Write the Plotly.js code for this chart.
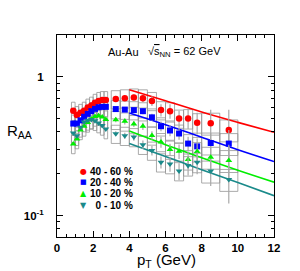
<!DOCTYPE html>
<html>
<head>
<meta charset="utf-8">
<script src="https://cdn.plot.ly/plotly-3.0.1.min.js"></script>
<style>html,body{margin:0;padding:0;background:#fff;}#plot{width:300px;height:271px;}</style>
</head>
<body>
<div id="plot"></div>
<script>
// ---- data ----
const pT = [0.9,1.1,1.3,1.5,1.7,1.9,2.1,2.3,2.5,2.7,3.25,3.75,4.25,4.75,5.25,5.75,6.25,6.75,7.25,7.75,8.5,9.5];
const binHalf = [0.1,0.1,0.1,0.1,0.1,0.1,0.1,0.1,0.1,0.1,0.25,0.25,0.25,0.25,0.25,0.25,0.25,0.25,0.25,0.25,0.5,0.5];
const sysFrac = [0.15,0.15,0.15,0.15,0.15,0.15,0.15,0.15,0.15,0.15,0.15,0.15,0.15,0.15,0.15,0.15,0.15,0.15,0.16,0.16,0.18,0.18];

const raa4060 = [0.57,0.53,0.55,0.57,0.60,0.62,0.65,0.67,0.68,0.68,0.69,0.70,0.71,0.70,0.67,0.575,0.565,0.50,0.50,0.467,0.463,0.414];
const raa2040 = [0.46,0.46,0.485,0.515,0.54,0.565,0.587,0.603,0.607,0.607,0.585,0.58,0.575,0.565,0.51,0.44,0.41,0.39,0.33,0.315,0.333,0.33];
const raa1020 = [0.328,0.356,0.414,0.439,0.469,0.496,0.518,0.524,0.513,0.493,0.49,0.477,0.457,0.439,0.378,0.339,0.299,0.290,0.253,0.289,0.263,0.249];
const raa0010 = [0.394,0.376,0.432,0.472,0.485,0.493,0.482,0.464,0.446,0.42,0.389,0.376,0.368,0.324,0.294,0.242,0.235,0.209,0.229,0.242,0.209,0.182];

const stat4060 = [0.01,0.01,0.01,0.01,0.01,0.01,0.01,0.01,0.015,0.015,0.03,0.04,0.05,0.06,0.08,0.10,0.12,0.14,0.16,0.18,0.25,0.40];
const stat2040 = [0.01,0.01,0.01,0.01,0.01,0.01,0.01,0.01,0.015,0.015,0.03,0.035,0.04,0.05,0.06,0.08,0.09,0.10,0.12,0.14,0.18,0.25];
const stat1020 = [0.01,0.01,0.01,0.01,0.01,0.01,0.01,0.01,0.015,0.015,0.04,0.05,0.05,0.06,0.07,0.09,0.10,0.12,0.14,0.16,0.20,0.30];
const stat0010 = [0.01,0.01,0.01,0.01,0.01,0.01,0.01,0.01,0.015,0.015,0.04,0.05,0.06,0.07,0.08,0.10,0.12,0.14,0.15,0.18,0.22,0.33];

const linePt = [4,6,8,10,12];
const line4060 = [0.806,0.672,0.557,0.469,0.398];
const line2040 = [0.548,0.451,0.367,0.298,0.245];
const line1020 = [0.406,0.324,0.261,0.212,0.174];
const line0010 = [0.330,0.266,0.214,0.173,0.139];

const names = ['40 - 60 %','20 - 40 %','10 - 20 %','\u00a0\u00a00 - 10 %'];
const colors = ['#ff0000','#0000ff','#00ee00','#1a8a8a'];
const symbols = ['circle','square','triangle-up','triangle-down'];
const glyphs = ['\u25CF','\u25A0','\u25B2','\u25BC'];
const series = [raa4060, raa2040, raa1020, raa0010];
const stats = [stat4060, stat2040, stat1020, stat0010];
const lines = [line4060, line2040, line1020, line0010];

// ---- traces ----
const traces = [];
// systematic boxes
series.forEach((vals) => {
  const bx = [], by = [];
  vals.forEach((v, i) => {
    const lo = v * (1 - sysFrac[i]), hi = v * (1 + sysFrac[i]);
    const x0 = pT[i] - binHalf[i], x1 = pT[i] + binHalf[i];
    bx.push(x0, x1, x1, x0, x0, null);
    by.push(lo, lo, hi, hi, lo, null);
  });
  traces.push({x: bx, y: by, mode: 'lines', line: {color: '#959595', width: 0.8},
    hoverinfo: 'skip', showlegend: false});
});
// model curves
lines.forEach((l, k) => {
  traces.push({x: linePt, y: l, mode: 'lines', line: {color: colors[k], width: 1.6, shape: 'spline'},
    hoverinfo: 'skip', showlegend: false});
});
// data points with stat errors
series.forEach((vals, k) => {
  traces.push({x: pT, y: vals, mode: 'markers', name: names[k], showlegend: false,
    marker: {color: colors[k], symbol: symbols[k], size: k === 0 ? 6.5 : 6, line: {width: 0}},
    error_y: {type: 'data', array: vals.map((v, i) => v * stats[k][i]), color: '#a8a8a8', thickness: 1.2, width: 0}});
});

// ---- layout ----
const font = 'Liberation Sans, Arial, sans-serif';
const legY = [0.323, 0.271, 0.216, 0.158];
const ann = [];
names.forEach((n, k) => {
  ann.push({xref: 'paper', yref: 'paper', x: 0.122, y: legY[k], xanchor: 'center', yanchor: 'middle',
    text: glyphs[k], showarrow: false, borderpad: 0, font: {family: 'DejaVu Sans', size: k === 1 ? 7 : 8, color: colors[k]}});
  ann.push({xref: 'paper', yref: 'paper', x: 0.146, y: legY[k], xanchor: 'left', yanchor: 'middle',
    text: '<b>' + n + '</b>', showarrow: false, borderpad: 0, font: {family: font, size: 10, color: '#000'}});
});
ann.push({xref: 'paper', yref: 'paper', x: 0.228, y: 0.916, xanchor: 'left', yanchor: 'middle',
  text: 'Au-Au', showarrow: false, font: {family: font, size: 11, color: '#000'}});
ann.push({xref: 'paper', yref: 'paper', x: 0.41, y: 0.916, xanchor: 'left', yanchor: 'middle',
  text: '\u221A<span style="text-decoration:overline">s</span><sub>NN</sub> = 62 GeV', showarrow: false,
  font: {family: font, size: 11, color: '#000'}});
ann.push({xref: 'paper', yref: 'paper', x: -0.175, y: 0.52, xanchor: 'center', yanchor: 'middle',
  text: 'R<sub>AA</sub>', showarrow: false, font: {family: font, size: 15, color: '#000'}});
ann.push({xref: 'paper', yref: 'paper', x: 0.505, y: -0.17, xanchor: 'center', yanchor: 'bottom',
  text: 'p<sub>T</sub> (GeV)', showarrow: false, borderpad: 0, font: {family: font, size: 15, color: '#000'}});

const layout = {
  width: 300, height: 271,
  margin: {l: 57, r: 26, t: 35, b: 34},
  paper_bgcolor: '#fff', plot_bgcolor: '#fff',
  showlegend: false,
  xaxis: {
    range: [0, 12], dtick: 2, tick0: 0, ticks: 'inside', ticklen: 6, tickwidth: 1, tickcolor: '#000',
    showline: true, linecolor: '#000', linewidth: 1, mirror: 'allticks', showgrid: false, zeroline: false,
    tickfont: {family: font, size: 11.5, color: '#000', weight: 'bold'},
    ticklabelstandoff: 0,
    minor: {dtick: 0.5, ticks: 'inside', ticklen: 3, tickcolor: '#000', showgrid: false}
  },
  yaxis: {
    type: 'log', range: [Math.log10(0.07), Math.log10(2)],
    tickmode: 'array', tickvals: [0.1, 1], ticktext: ['10<sup>-1</sup>', '1'],
    ticks: 'inside', ticklen: 6, tickwidth: 1, tickcolor: '#000',
    showline: true, linecolor: '#000', linewidth: 1, mirror: 'allticks', showgrid: false, zeroline: false,
    tickfont: {family: font, size: 11.5, color: '#000', weight: 'bold'},
    ticklabelstandoff: 10,
    minor: {tickmode: 'array', tickvals: [0.07,0.08,0.09,0.2,0.3,0.4,0.5,0.6,0.7,0.8,0.9,2],
      ticks: 'inside', ticklen: 3, tickcolor: '#000', showgrid: false}
  },
  annotations: ann
};

Plotly.newPlot('plot', traces, layout, {displayModeBar: false, staticPlot: true});
</script>
</body>
</html>
